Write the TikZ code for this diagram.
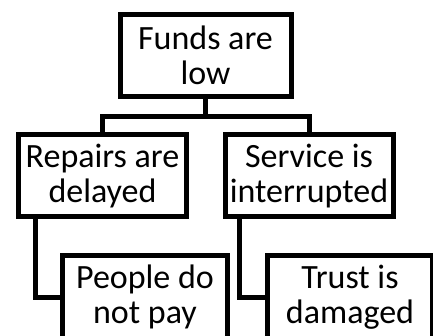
\documentclass[tikz,border=0pt]{standalone}
\usepackage{fontspec}
\setmainfont{Carlito}
\begin{document}
\begin{tikzpicture}[x=1pt,y=-1pt,
  box/.style={draw=black,line width=5pt,fill=white,minimum width=168pt,minimum height=82pt,
    inner sep=0pt,align=center,font=\fontsize{34}{35}\selectfont},
  conn/.style={draw=black,line width=5pt}]
\useasboundingbox (0,0) rectangle (433,336);
\clip (0,0) rectangle (433,336);
\node[box,minimum width=171pt] (top) at (205.5,55.5) {Funds are\\low};
\node[box] (rep) at (102.5,176) {Repairs are\\delayed};
\node[box] (ser) at (309,176) {Service is\\interrupted};
\node[box,minimum width=165pt] (peo) at (145,297) {People do\\not pay};
\node[box,minimum width=165pt] (tru) at (350,297) {Trust is\\damaged};
\coordinate (bar) at (0,117);
\draw[conn] (top.south) -- (top.south |- bar);
\draw[conn] (rep.north) -- (rep.north |- bar) -- (ser.north |- bar) -- (ser.north);
\draw[conn] ([xshift=19pt]rep.south west) |- (peo.west);
\draw[conn] ([xshift=17pt]ser.south west) |- (tru.west);
\end{tikzpicture}
\end{document}
